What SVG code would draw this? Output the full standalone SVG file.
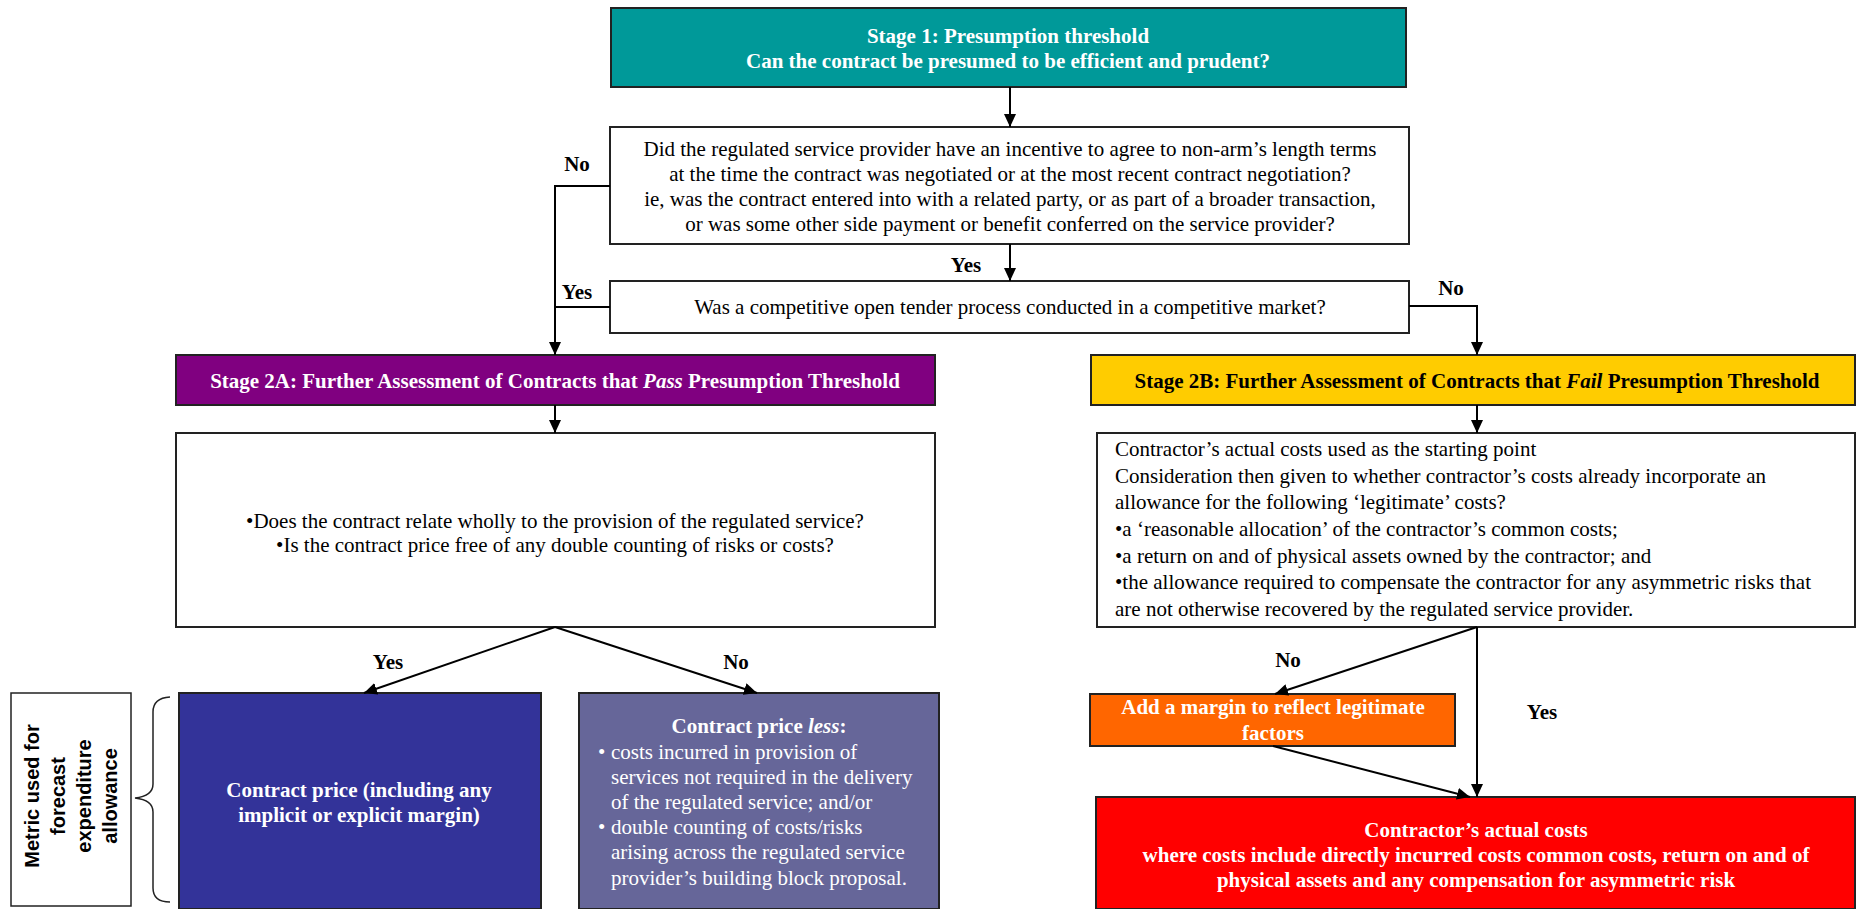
<svg xmlns="http://www.w3.org/2000/svg" width="1856" height="909" viewBox="0 0 1856 909">
<style>
  .t { font-family: "Liberation Serif", "Times New Roman", serif; font-size: 21px; fill: #000; }
  .b { font-weight: bold; }
  .w { fill: #fff; }
  .c { text-anchor: middle; }
  .i { font-style: italic; }
  .box { stroke: #222; stroke-width: 2; }
  .conn { fill: none; stroke: #000; stroke-width: 2; }
  .sans { font-family: "Liberation Sans", Arial, sans-serif; font-size: 20px; font-weight: bold; fill: #000; text-anchor: middle; }
</style>
<defs>
  <marker id="ah" markerUnits="userSpaceOnUse" markerWidth="14" markerHeight="12" refX="13" refY="6" orient="auto">
    <path d="M0,0 L13,6 L0,12 z" fill="#000"/>
  </marker>
</defs>

<g id="stage1">
  <rect class="box" x="611" y="8" width="795" height="79" fill="#009999"/>
  <text class="t b w c" x="1008" y="43">Stage 1: Presumption threshold</text>
  <text class="t b w c" x="1008" y="68">Can the contract be presumed to be efficient and prudent?</text>
</g>

<g id="q1">
  <rect class="box" x="610" y="127" width="799" height="117" fill="#fff"/>
  <text class="t c" x="1010" y="156">Did the regulated service provider have an incentive to agree to non-arm’s length terms</text>
  <text class="t c" x="1010" y="181">at the time the contract was negotiated or at the most recent contract negotiation?</text>
  <text class="t c" x="1010" y="206">ie, was the contract entered into with a related party, or as part of a broader transaction,</text>
  <text class="t c" x="1010" y="231">or was some other side payment or benefit conferred on the service provider?</text>
</g>

<g id="q2">
  <rect class="box" x="610" y="281" width="799" height="52" fill="#fff"/>
  <text class="t c" x="1010" y="314">Was a competitive open tender process conducted in a competitive market?</text>
</g>

<g id="stage2a">
  <rect class="box" x="176" y="355" width="759" height="50" fill="#800080"/>
  <text class="t b w c" x="555" y="388">Stage 2A: Further Assessment of Contracts that <tspan class="i">Pass</tspan> Presumption Threshold</text>
</g>

<g id="q2a">
  <rect class="box" x="176" y="433" width="759" height="194" fill="#fff"/>
  <text class="t c" x="555" y="528">•Does the contract relate wholly to the provision of the regulated service?</text>
  <text class="t c" x="555" y="552">•Is the contract price free of any double counting of risks or costs?</text>
</g>

<g id="stage2b">
  <rect class="box" x="1091" y="355" width="764" height="50" fill="#FFCC00"/>
  <text class="t b c" x="1477" y="388">Stage 2B: Further Assessment of Contracts that <tspan class="i">Fail</tspan> Presumption Threshold</text>
</g>

<g id="q2b">
  <rect class="box" x="1097" y="433" width="758" height="194" fill="#fff"/>
  <text class="t" x="1115" y="456">Contractor’s actual costs used as the starting point</text>
  <text class="t" x="1115" y="483">Consideration then given to whether contractor’s costs already incorporate an</text>
  <text class="t" x="1115" y="509">allowance for the following ‘legitimate’ costs?</text>
  <text class="t" x="1115" y="536">•a ‘reasonable allocation’ of the contractor’s common costs;</text>
  <text class="t" x="1115" y="563">•a return on and of physical assets owned by the contractor; and</text>
  <text class="t" x="1115" y="589">•the allowance required to compensate the contractor for any asymmetric risks that</text>
  <text class="t" x="1115" y="616">are not otherwise recovered by the regulated service provider.</text>
</g>

<g id="metric">
  <rect x="11" y="693" width="120" height="213" fill="#fff" stroke="#222" stroke-width="1.5"/>
  <g transform="translate(72,796) rotate(-90)">
    <text class="sans" x="0" y="-33">Metric used for</text>
    <text class="sans" x="0" y="-7">forecast</text>
    <text class="sans" x="0" y="19">expenditure</text>
    <text class="sans" x="0" y="45">allowance</text>
  </g>
</g>

<g id="brace">
  <path d="M170,697 Q153,698 153,712 L153,784 Q153,796 135,798 Q153,800 153,812 L153,888 Q153,902 170,902" fill="none" stroke="#222" stroke-width="1.5"/>
</g>

<g id="passYes">
  <rect class="box" x="179" y="693" width="362" height="216" fill="#333399"/>
  <text class="t b w c" x="359" y="797">Contract price (including any</text>
  <text class="t b w c" x="359" y="822">implicit or explicit margin)</text>
</g>

<g id="passNo">
  <rect class="box" x="579" y="693" width="360" height="216" fill="#666699"/>
  <text class="t b w c" x="759" y="733">Contract price <tspan class="i">less</tspan>:</text>
  <text class="t w" x="598" y="759">•</text>
  <text class="t w" x="611" y="759">costs incurred in provision of</text>
  <text class="t w" x="611" y="784">services not required in the delivery</text>
  <text class="t w" x="611" y="809">of the regulated service; and/or</text>
  <text class="t w" x="598" y="834">•</text>
  <text class="t w" x="611" y="834">double counting of costs/risks</text>
  <text class="t w" x="611" y="859">arising across the regulated service</text>
  <text class="t w" x="611" y="885">provider’s building block proposal.</text>
</g>

<g id="margin">
  <rect class="box" x="1090" y="694" width="365" height="52" fill="#FF6600"/>
  <text class="t b w c" x="1273" y="714">Add a margin to reflect legitimate</text>
  <text class="t b w c" x="1273" y="740">factors</text>
</g>

<g id="actual">
  <rect class="box" x="1096" y="797" width="759" height="112" fill="#FF0000"/>
  <text class="t b w c" x="1476" y="837">Contractor’s actual costs</text>
  <text class="t b w c" x="1476" y="862">where costs include directly incurred costs common costs, return on and of</text>
  <text class="t b w c" x="1476" y="887">physical assets and any compensation for asymmetric risk</text>
</g>

<g id="connectors">
  <path class="conn" d="M1010,87 V127" marker-end="url(#ah)"/>
  <path class="conn" d="M610,186 H555 V355" marker-end="url(#ah)"/>
  <path class="conn" d="M610,307 H555"/>
  <path class="conn" d="M1010,244 V281" marker-end="url(#ah)"/>
  <path class="conn" d="M1409,306 H1477 V355" marker-end="url(#ah)"/>
  <path class="conn" d="M555,405 V433" marker-end="url(#ah)"/>
  <path class="conn" d="M1477,405 V433" marker-end="url(#ah)"/>
  <path class="conn" d="M555,627 L364,693" marker-end="url(#ah)"/>
  <path class="conn" d="M555,627 L757,693" marker-end="url(#ah)"/>
  <path class="conn" d="M1477,627 L1275,694" marker-end="url(#ah)"/>
  <path class="conn" d="M1477,627 V797" marker-end="url(#ah)"/>
  <path class="conn" d="M1273,746 L1470,797" marker-end="url(#ah)"/>
  <text class="t b c" x="577" y="171">No</text>
  <text class="t b c" x="577" y="299">Yes</text>
  <text class="t b c" x="966" y="272">Yes</text>
  <text class="t b c" x="1451" y="295">No</text>
  <text class="t b c" x="388" y="669">Yes</text>
  <text class="t b c" x="736" y="669">No</text>
  <text class="t b c" x="1288" y="667">No</text>
  <text class="t b c" x="1542" y="719">Yes</text>
</g>
</svg>
